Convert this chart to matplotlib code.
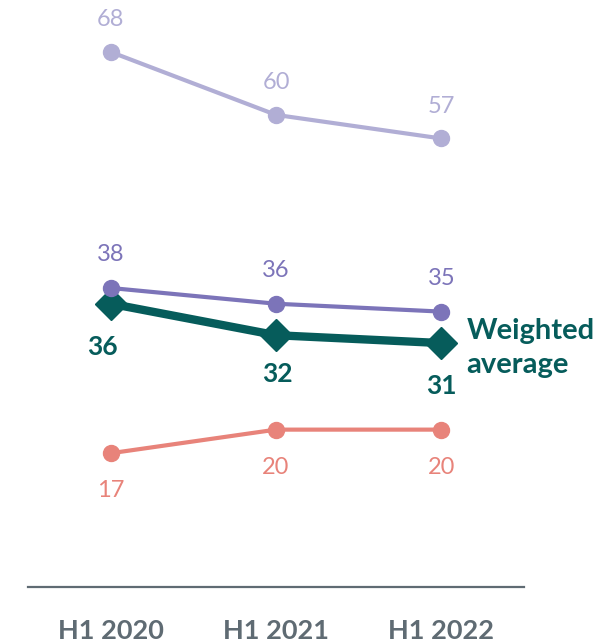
import matplotlib
matplotlib.use("Agg")
import matplotlib.pyplot as plt

categories = ["H1 2020", "H1 2021", "H1 2022"]
top_series = [68, 60, 57]
upper_series = [38, 36, 35]
weighted_avg = [36, 32, 31]
lower_series = [17, 20, 20]

plt.rcParams['font.family'] = ['Lato', 'DejaVu Sans']

fig = plt.figure(figsize=(6.10, 6.43), dpi=100)
ax = fig.add_axes([28/610, 56/643, 496/610, 587/643])
x = list(range(len(categories)))

c_top = "#B1AED5"
c_up = "#7C74B9"
c_w = "#065C5B"
c_low = "#E8837A"

ax.plot(x, top_series, color=c_top, lw=3, marker='o', ms=11.5, zorder=3)
ax.plot(x, lower_series, color=c_low, lw=3, marker='o', ms=11.5, zorder=3)
ax.plot(x, weighted_avg, color=c_w, lw=6, marker='D', ms=16, zorder=4)
ax.plot(x, upper_series, color=c_up, lw=3, marker='o', ms=11.5, zorder=5)

fs = 17
for xi, v in zip(x, top_series):
    ax.annotate(str(v), (xi, v), xytext=(0, 23), textcoords='offset points',
                ha='center', va='center', color=c_top, fontsize=fs)
for xi, v in zip(x, upper_series):
    ax.annotate(str(v), (xi, v), xytext=(0, 24), textcoords='offset points',
                ha='center', va='center', color=c_up, fontsize=fs)
for xi, v in zip(x, lower_series):
    ax.annotate(str(v), (xi, v), xytext=(0, -27), textcoords='offset points',
                ha='center', va='center', color=c_low, fontsize=fs)
w_off = [(-6, -31), (1, -28), (0, -31)]
for xi, v, off in zip(x, weighted_avg, w_off):
    ax.annotate(str(v), (xi, v), xytext=off, textcoords='offset points',
                ha='center', va='center', color=c_w, fontsize=19, fontweight='bold')

ax.annotate("Weighted\naverage", (x[-1], weighted_avg[-1]), xytext=(18, -3.5),
            textcoords='offset points', ha='left', va='center', color=c_w,
            fontsize=21, fontweight='bold', linespacing=1.35)

ax.set_xlim(-0.5, 2.5)
ax.set_ylim(0, 74.6)
for s in ['top', 'right', 'left']:
    ax.spines[s].set_visible(False)
ax.spines['bottom'].set_color("#5F6B73")
ax.spines['bottom'].set_linewidth(1.6)
ax.set_yticks([])
ax.set_xticks(x)
ax.set_xticklabels(categories, fontsize=19.5, fontweight='bold', color="#5F6B73")
ax.tick_params(axis='x', length=0, pad=23)

fig.savefig("out.png", dpi=100)
